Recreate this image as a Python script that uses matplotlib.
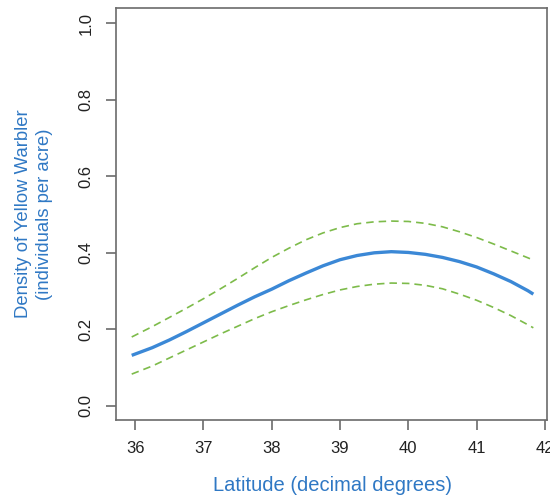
import matplotlib
matplotlib.use("Agg")
import matplotlib.pyplot as plt

# values
latitude = [35.95, 36.25, 36.5, 36.75, 37.0, 37.25, 37.5, 37.75, 38.0, 38.25, 38.5, 38.75,
            39.0, 39.25, 39.5, 39.75, 40.0, 40.25, 40.5, 40.75, 41.0, 41.25, 41.5, 41.75, 41.83]
density = [0.132, 0.152, 0.172, 0.194, 0.217, 0.240, 0.263, 0.285, 0.305, 0.327, 0.347, 0.366,
           0.382, 0.393, 0.400, 0.403, 0.401, 0.396, 0.388, 0.377, 0.363, 0.345, 0.325, 0.301, 0.292]
upper_ci = [0.180, 0.207, 0.231, 0.255, 0.280, 0.306, 0.333, 0.361, 0.388, 0.412, 0.434, 0.452,
            0.466, 0.476, 0.481, 0.483, 0.482, 0.477, 0.468, 0.455, 0.440, 0.423, 0.405, 0.387, 0.381]
lower_ci = [0.083, 0.104, 0.125, 0.146, 0.167, 0.188, 0.208, 0.228, 0.246, 0.262, 0.277, 0.291,
            0.303, 0.312, 0.318, 0.321, 0.320, 0.315, 0.306, 0.292, 0.276, 0.257, 0.236, 0.212, 0.204]

x_ticks = [36, 37, 38, 39, 40, 41, 42]
y_ticks = [0.0, 0.2, 0.4, 0.6, 0.8, 1.0]

plt.rcParams['font.family'] = ['Liberation Sans', 'DejaVu Sans']

fig = plt.figure(figsize=(5.5, 4.98), dpi=100)
ax = fig.add_axes([116 / 550, 1 - 420 / 498, (547 - 116) / 550, (420 - 8) / 498])

ax.plot(latitude, density, color='#3b88d6', lw=2.4, solid_capstyle='butt')
ax.plot(latitude, upper_ci, color='#7dbb4a', lw=1.2, dashes=(4.5, 3))
ax.plot(latitude, lower_ci, color='#7dbb4a', lw=1.2, dashes=(4.5, 3))

ax.set_xlim(35.72, 42.03)
ax.set_ylim(-0.037, 1.04)
ax.set_xticks(x_ticks)
ax.set_yticks(y_ticks)
ax.set_xticklabels([str(t) for t in x_ticks], fontsize=12)
ax.set_yticklabels([f"{t:.1f}" for t in y_ticks], rotation=90, va='center', fontsize=12)

for s in ax.spines.values():
    s.set_color('#6b6b6b')
    s.set_linewidth(1.2)
ax.tick_params(axis='both', length=7, width=1.2, color='#6b6b6b', labelcolor='#222222')
ax.tick_params(axis='x', pad=8)
ax.tick_params(axis='y', pad=9)

lab_col = '#2f78c4'
fig.text((213 + 452) / 2 / 550, 1 - 485 / 498, 'Latitude (decimal degrees)',
         ha='center', va='center', fontsize=14.5, color=lab_col)
fig.text(34 / 550, 1 - 214 / 498, 'Density of Yellow Warbler\n(individuals per acre)',
         ha='center', va='center', rotation=90, multialignment='center',
         fontsize=13.3, color=lab_col, linespacing=1.35)

fig.savefig('out.png', dpi=100)
